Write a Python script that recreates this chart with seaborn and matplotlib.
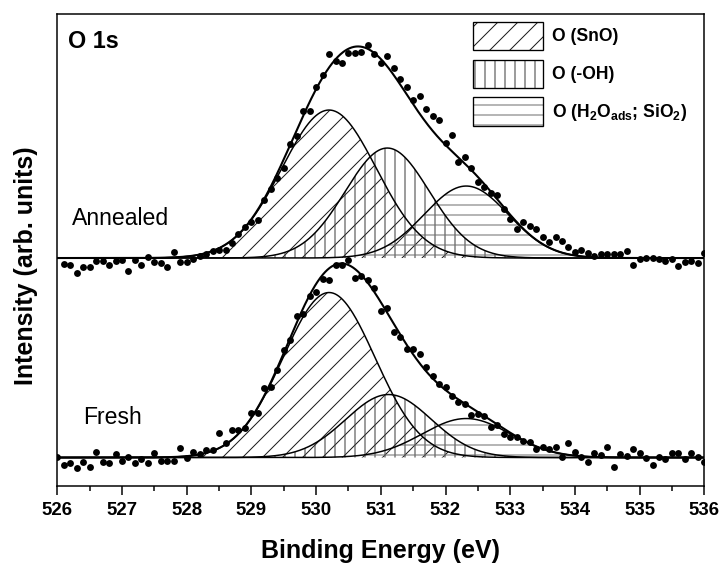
import numpy as np
import pandas as pd
import matplotlib
matplotlib.use("Agg")
import matplotlib.pyplot as plt
import seaborn as sns
from matplotlib.patches import Patch
from matplotlib.ticker import MultipleLocator

# Measured O 1s spectra (0.1 eV step), intensity above each spectrum's baseline
energy_annealed = np.round(np.arange(526.1, 536.05, 0.1), 1)
energy_fresh = np.round(np.arange(526.0, 536.05, 0.1), 1)

counts_annealed = [
    -6.3, -7.0, -14.7, -9.0, -8.7, -3.0, -3.0, -7.3, -2.7, -2.0,
    -13.0, -2.0, -7.0, 1.3, -3.7, -5.3, -9.0, 5.7, -4.3, -4.3,
    -1.3, 2.0, 4.0, 6.7, 8.3, 8.3, 14.7, 24.0, 31.0, 36.0,
    38.0, 58.3, 69.3, 80.3, 90.3, 114.3, 122.3, 147.0, 147.0, 170.7,
    183.0, 204.0, 197.0, 195.3, 205.3, 205.3, 206.3, 213.3, 204.0, 194.7,
    202.0, 190.3, 178.7, 171.3, 158.0, 162.0, 149.0, 142.3, 138.0, 115.3,
    123.0, 96.3, 101.3, 89.7, 76.3, 70.7, 64.7, 63.0, 48.7, 38.7,
    28.7, 36.3, 32.0, 28.7, 20.7, 15.7, 20.7, 17.3, 10.7, 6.3,
    8.0, 5.3, 2.3, 4.0, 4.0, 4.3, 4.0, 7.0, -7.0, -0.7,
    0.3, 0.0, -1.3, -2.7, -0.7, -8.0, -4.3, -2.7, -5.3, 4.7,
]

counts_fresh = [
    0.2, -7.5, -5.8, -10.8, -4.2, -9.2, 5.2, -4.2, -5.8, 3.5,
    -3.2, 0.8, -5.2, -1.8, -5.8, 4.8, -3.2, -3.2, -3.2, 9.2,
    -0.8, 5.2, 3.5, 7.5, 7.5, 24.2, 14.2, 27.5, 27.5, 29.8,
    44.2, 44.8, 69.2, 70.2, 87.5, 107.5, 117.5, 141.5, 143.2, 161.8,
    165.8, 178.5, 177.5, 192.5, 192.5, 197.5, 179.8, 181.5, 177.5, 169.2,
    146.5, 149.2, 125.8, 120.2, 108.2, 108.2, 103.5, 90.2, 81.5, 73.5,
    70.2, 61.5, 55.2, 53.2, 42.5, 43.5, 41.5, 30.2, 32.5, 23.5,
    20.2, 20.8, 16.8, 15.8, 8.2, 10.8, 8.2, 10.2, 0.8, 14.8,
    5.2, 0.8, -4.8, 4.8, 2.5, 10.8, -9.8, 3.5, 1.8, 8.2,
    4.8, -0.2, -7.5, 0.2, -1.5, 4.2, 4.2, -1.8, 4.2, 0.8,
    -4.8,
]

# Fitted Gaussian components: centre (eV), height, sigma (eV)
component_labels = ["O (SnO)", "O (-OH)", "O (H$_2$O$_{ads}$; SiO$_2$)"]
centres_annealed = [530.20, 531.10, 532.32]
heights_annealed = [148.0, 110.0, 72.0]
sigmas_annealed = [0.73, 0.65, 0.65]
centres_fresh = [530.20, 531.12, 532.32]
heights_fresh = [165.0, 63.0, 39.0]
sigmas_fresh = [0.71, 0.66, 0.68]

# vertical shift of the annealed spectrum above the fresh one
offset_annealed = 199.5

x_ticks = list(range(526, 537))
x_tick_labels = [str(v) for v in x_ticks]

sns.set_theme(style="white")
plt.rcParams.update({
    "font.family": ["Liberation Sans", "DejaVu Sans"],
    "mathtext.default": "regular",
    "hatch.linewidth": 0.6,
    "axes.linewidth": 0.9,
    "axes.edgecolor": "black",
    "text.color": "black",
    "axes.labelcolor": "black",
    "xtick.color": "black",
    "ytick.color": "black",
})

DPI = 120
fig = plt.figure(figsize=(722 / DPI, 564 / DPI), dpi=DPI)
ax = fig.add_axes([0.0794, 0.1388, 0.8961, 0.8363])

hatches = ["//", "||", "--"]
hatch_colors = ["#1a1a1a", "#3c3c3c", "#6e6e6e"]
grid = np.linspace(526.0, 536.0, 1201)

spectra = [
    (energy_fresh, counts_fresh, centres_fresh, heights_fresh, sigmas_fresh, 0.0),
    (energy_annealed, counts_annealed, centres_annealed, heights_annealed,
     sigmas_annealed, offset_annealed),
]

for energy, counts, centres, heights, sigmas, base in spectra:
    envelope = np.zeros_like(grid)
    for c, h, s, hatch, hc in zip(centres, heights, sigmas, hatches, hatch_colors):
        peak = h * np.exp(-(grid - c) ** 2 / (2 * s ** 2))
        envelope += peak
        ax.fill_between(grid, base, base + peak, facecolor="none",
                        edgecolor=hc, hatch=hatch, linewidth=0, zorder=1)
        ax.plot(grid, base + peak, color="black", lw=0.9, zorder=2)
    fit = pd.DataFrame({"energy": grid, "intensity": base + envelope})
    sns.lineplot(data=fit, x="energy", y="intensity", color="black",
                 lw=1.25, ax=ax, zorder=3)
    pts = pd.DataFrame({"energy": energy, "intensity": np.asarray(counts) + base})
    sns.scatterplot(data=pts, x="energy", y="intensity", color="black",
                    s=17, linewidth=0, ax=ax, zorder=4)

ax.set_xlim(526, 536)
ax.set_ylim(-28.2, 443.5)

ax.set_xticks(x_ticks)
ax.set_xticklabels(x_tick_labels, fontweight="bold")
ax.xaxis.set_minor_locator(MultipleLocator(0.5))
ax.tick_params(axis="x", which="major", direction="out", length=5.6,
               width=0.9, pad=4, labelsize=11.2, bottom=True, top=False)
ax.tick_params(axis="x", which="minor", direction="out", length=3,
               width=0.9, bottom=True, top=False)
ax.set_yticks([0, offset_annealed])
ax.tick_params(axis="y", direction="in", length=2, width=0.9,
               left=True, right=False, labelleft=False)

ax.set_xlabel("Binding Energy (eV)", fontsize=15, fontweight="bold", labelpad=12)
ax.set_ylabel("Intensity (arb. units)", fontsize=15, fontweight="bold")
ax.yaxis.set_label_coords(-0.030, 0.467)

ax.text(0.017, 0.929, "O 1s", transform=ax.transAxes, fontsize=14,
        fontweight="bold", ha="left", va="baseline")
ax.text(0.0223, 0.5527, "Annealed", transform=ax.transAxes, fontsize=13.8,
        ha="left", va="baseline")
ax.text(0.0402, 0.1308, "Fresh", transform=ax.transAxes, fontsize=13.8,
        ha="left", va="baseline")

handles = []
for hatch, hc in zip(hatches, hatch_colors):
    handles.append((
        Patch(facecolor="white", edgecolor=hc, hatch=hatch, linewidth=0),
        Patch(facecolor="none", edgecolor="black", linewidth=0.8),
    ))
ax.legend(handles, component_labels, loc="upper left",
          bbox_to_anchor=(0.6425, 0.9837), frameon=False, borderpad=0,
          borderaxespad=0, handlelength=4.0, handleheight=2.13,
          labelspacing=0.53, handletextpad=0.51,
          prop={"weight": "bold", "size": 10.5})

fig.savefig("out.png", dpi=DPI)
